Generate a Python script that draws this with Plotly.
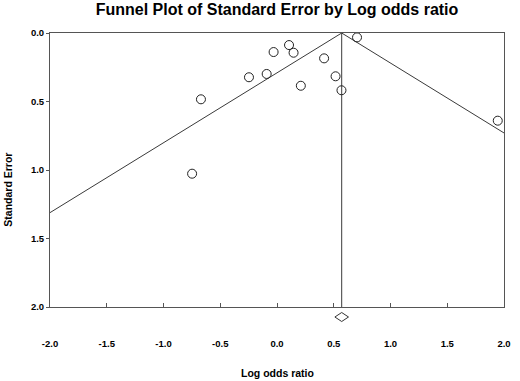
import plotly.graph_objects as go

# Study data: log odds ratio and standard error
log_or = [-0.67, -0.247, -0.091, -0.030, 0.106, 0.146, 0.210, 0.415, 0.516, 0.568, 0.705, 1.945, -0.748]
std_err = [0.484, 0.323, 0.299, 0.139, 0.088, 0.144, 0.385, 0.185, 0.316, 0.418, 0.032, 0.64, 1.027]

pooled = 0.57
pooled_ci = [0.51, 0.63]
z = 1.96
se_max = 2.0
x_range = [-2.0, 2.0]
x_ticks = [-2.0, -1.5, -1.0, -0.5, 0.0, 0.5, 1.0, 1.5, 2.0]
y_ticks = [0.0, 0.5, 1.0, 1.5, 2.0]

W, H = 520, 381
M = dict(l=50, r=9, t=33, b=74)
plot_h = H - M["t"] - M["b"]
plot_w = W - M["l"] - M["r"]

line_col = "#3a3a3a"
font_fam = "Liberation Sans, Arial, sans-serif"

fig = go.Figure()

# Funnel (pseudo 95% limits)
fig.add_trace(go.Scatter(
    x=[pooled - z * se_max, pooled, pooled + z * se_max],
    y=[se_max, 0.0, se_max],
    mode="lines", line=dict(color=line_col, width=1), hoverinfo="skip"))
# Vertical line at pooled estimate
fig.add_trace(go.Scatter(
    x=[pooled, pooled], y=[0.0, se_max],
    mode="lines", line=dict(color=line_col, width=1), hoverinfo="skip"))
# Studies
fig.add_trace(go.Scatter(
    x=log_or, y=std_err, mode="markers",
    marker=dict(symbol="circle-open", size=9, color="#222", line=dict(width=1))))

# Pooled diamond below the axis (x in data units, y in paper units)
yc = -10 / plot_h
hh = 4.5 / plot_h
fig.add_shape(type="path", xref="x", yref="paper",
              path=f"M {pooled_ci[0]},{yc} L {pooled},{yc + hh} L {pooled_ci[1]},{yc} L {pooled},{yc - hh} Z",
              line=dict(color="#333", width=1), fillcolor="white")

fig.update_layout(
    width=W, height=H,
    margin=M,
    paper_bgcolor="white", plot_bgcolor="white",
    showlegend=False,
    font=dict(family=font_fam, color="black"),
    title=dict(text="<b>Funnel Plot of Standard Error by Log odds ratio</b>",
               xref="paper", x=0.5, xanchor="center",
               yref="container", y=1 - 9 / H, yanchor="middle",
               font=dict(size=16, family=font_fam, color="black")),
)
fig.update_xaxes(
    range=x_range, tickvals=x_ticks, ticktext=["<b>%.1f</b>" % v for v in x_ticks],
    showgrid=False, zeroline=False, showline=True, linecolor="#555", linewidth=1,
    mirror=True, ticks="inside", ticklen=4, tickcolor="#555",
    ticklabelstandoff=28, tickfont=dict(size=9.5, color="black"))
fig.update_yaxes(
    range=[2.0, 0.0], tickvals=y_ticks, ticktext=["<b>%.1f</b>" % v for v in y_ticks],
    showgrid=False, zeroline=False, showline=True, linecolor="#555", linewidth=1,
    mirror=True, ticks="outside", ticklen=3, tickcolor="#555",
    tickfont=dict(size=9.5, color="black"))

fig.add_annotation(text="<b>Log odds ratio</b>", xref="paper", yref="paper",
                   x=0.5, y=-66 / plot_h, xanchor="center", yanchor="middle",
                   showarrow=False, font=dict(size=10.5, color="black"))
fig.add_annotation(text="<b>Standard Error</b>", xref="paper", yref="paper",
                   x=-43 / plot_w, y=0.5 - 20 / plot_h,
                   xanchor="center", yanchor="middle",
                   textangle=-90, showarrow=False, font=dict(size=10.5, color="black"))

post = ("document.body.style.margin='0';document.body.style.overflow='hidden';"
        "var gd=document.getElementById('{plot_id}');"
        "Plotly.relayout(gd,{width:%d,height:%d});" % (W, H))

fig.write_html("out.html", config={"displayModeBar": False, "responsive": False},
               post_script=post)
